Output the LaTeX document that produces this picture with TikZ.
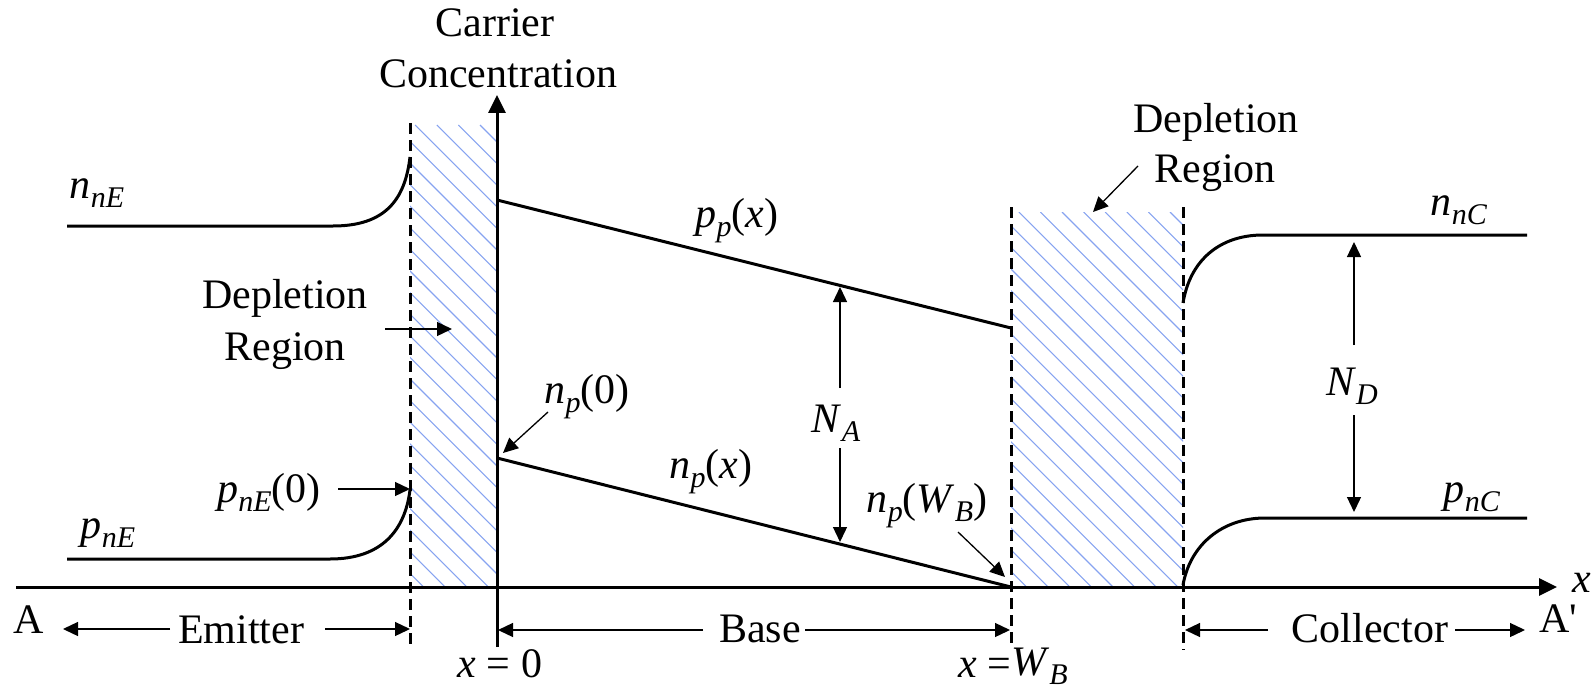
\documentclass[tikz,border=0pt]{standalone}
\usepackage{fontspec}
\setmainfont{Liberation Serif}
\usetikzlibrary{arrows.meta}
\definecolor{hatchblue}{RGB}{135,163,240}
\newcommand{\vsub}[2]{\textit{#1}\raisebox{-9pt}{\fontsize{30}{30}\selectfont\textit{#2}}}
\tikzset{
  curveline/.style={line width=3pt},
  axisline/.style={line width=3pt,-{Triangle[length=18pt,width=17pt]}},
  dimarrow/.style={line width=1.3pt,-{Triangle[length=15pt,width=14pt]}},
  dashline/.style={line width=3pt,dash pattern=on 11pt off 6pt},
  hatchline/.style={line width=1.1pt,draw=hatchblue},
  lbl/.style={inner sep=0pt,anchor=base,font=\fontsize{42}{48}\selectfont},
}
\begin{document}
\begin{tikzpicture}[x=1pt,y=-1pt]
\useasboundingbox (0,0) rectangle (1594,690);
% hatching
\begin{scope}
  \clip (410,125) rectangle (497,587);
  \foreach \k in {0,...,30} \draw[hatchline] ({-60+\k*21.6},125) -- ++(480,480);
\end{scope}
\begin{scope}
  \clip (1011,212) rectangle (1183,587);
  \foreach \k in {0,...,30} \draw[hatchline] ({630+\k*21.6},212) -- ++(400,400);
\end{scope}
% dashed boundaries
\coordinate (dLt) at (410,123); \coordinate (dLb) at (410,645);
\coordinate (dWt) at (1011,207); \coordinate (dWb) at (1011,649);
\coordinate (dCt) at (1183,207); \coordinate (dCb) at (1183,650);
\draw[dashline] (dLt) -- (dLb);
\draw[dashline] (dWt) -- (dWb);
\draw[dashline] (dCt) -- (dCb);
% axes
\coordinate (xs) at (16,587); \coordinate (xe) at (1557,587);
\coordinate (ys) at (497,647); \coordinate (ye) at (497,95);
\draw[axisline] (xs) -- (xe);
\draw[axisline] (ys) -- (ye);
% emitter curves
\coordinate (nE0) at (67,226); \coordinate (nE1) at (333,226); \coordinate (nE2) at (410,157);
\draw[curveline] (nE0) -- (nE1) .. controls (385,226) and (405,200) .. (nE2);
\coordinate (pE0) at (67,559); \coordinate (pE1) at (330,559); \coordinate (pE2) at (410,490);
\draw[curveline] (pE0) -- (pE1) .. controls (382,559) and (405,530) .. (pE2);
% base lines
\coordinate (pp0) at (497,200); \coordinate (pp1) at (1011,328);
\coordinate (np0) at (497,458); \coordinate (np1) at (1011,587);
\draw[curveline] (pp0) -- (pp1);
\draw[curveline] (np0) -- (np1);
% collector curves
\coordinate (nC0) at (1183,303); \coordinate (nC1) at (1263,235); \coordinate (nC2) at (1527,235);
\draw[curveline] (nC0) .. controls (1190,260) and (1220,235) .. (nC1) -- (nC2);
\coordinate (pC0) at (1183,585); \coordinate (pC1) at (1265,518); \coordinate (pC2) at (1527,518);
\draw[curveline] (pC0) .. controls (1190,545) and (1222,518) .. (pC1) -- (pC2);
% labels
\node[lbl] (car) at (495,37) {Carrier};
\node[lbl] (conc) at (498,88) {Concentration};
\node[lbl] (nnE) at (97,198) {\vsub{n}{nE}};
\node[lbl] (pnE) at (108,538) {\vsub{p}{nE}};
\node[lbl] (pnE0) at (269,502) {\vsub{p}{nE}(0)};
\node[lbl] (dep1) at (285,308) {Depletion};
\node[lbl] (reg1) at (285,360) {Region};
\node[lbl] (ppx) at (737,227) {\vsub{p}{p}(\textit{x})};
\node[lbl] (np0l) at (587,403) {\vsub{n}{p}(0)};
\node[lbl] (npx) at (711,478) {\vsub{n}{p}(\textit{x})};
\node[lbl] (npW) at (927,512) {\vsub{n}{p}(\vsub{W}{B})};
\node[lbl] (NA) at (836,432) {\vsub{N}{A}};
\node[lbl] (ND) at (1352,395) {\vsub{N}{D}};
\node[lbl] (nnC) at (1459,215) {\vsub{n}{nC}};
\node[lbl] (pnC) at (1472,502) {\vsub{p}{nC}};
\node[lbl] (dep2) at (1216,132) {Depletion};
\node[lbl] (reg2) at (1215,182) {Region};
\node[lbl] (xeq0) at (500,677) {\textit{x} = 0};
\node[lbl] (xeqW) at (1013,677) {\textit{x} =\raisebox{2pt}{\vsub{W}{B}}};
\node[lbl] (xlab) at (1582,592) {\textit{x}};
\node[lbl] (Al) at (29,633) {A};
\node[lbl] (Apl) at (1558,632) {A\textquotesingle};
\node[lbl] (emit) at (241,643) {Emitter};
\node[lbl] (base) at (760,642) {Base};
\node[lbl] (coll) at (1370,642) {Collector};
% annotation arrows
\coordinate (a1s) at (385,329); \coordinate (a1e) at (452,329);
\draw[dimarrow] (a1s) -- (a1e);
\coordinate (a2s) at (338,489); \coordinate (a2e) at (410,489);
\draw[dimarrow] (a2s) -- (a2e);
\coordinate (a3s) at (548,412); \coordinate (a3e) at (503,453);
\draw[dimarrow] (a3s) -- (a3e);
\coordinate (a4s) at (958,532); \coordinate (a4e) at (1005,577);
\draw[dimarrow] (a4s) -- (a4e);
\coordinate (a5s) at (1138,166); \coordinate (a5e) at (1093,212);
\draw[dimarrow] (a5s) -- (a5e);
% N_A
\coordinate (NAt0) at (840,388); \coordinate (NAt) at (840,287);
\coordinate (NAb0) at (840,448); \coordinate (NAb) at (840,542);
\draw[dimarrow] (NAt0) -- (NAt);
\draw[dimarrow] (NAb0) -- (NAb);
% N_D
\coordinate (NDt0) at (1354,345); \coordinate (NDt) at (1354,242);
\coordinate (NDb0) at (1354,415); \coordinate (NDb) at (1354,512);
\draw[dimarrow] (NDt0) -- (NDt);
\draw[dimarrow] (NDb0) -- (NDb);
% region arrows
\coordinate (e1s) at (170,629); \coordinate (e1e) at (63,629);
\coordinate (e2s) at (325,629); \coordinate (e2e) at (410,629);
\draw[dimarrow] (e1s) -- (e1e);
\draw[dimarrow] (e2s) -- (e2e);
\coordinate (b1s) at (703,630); \coordinate (b1e) at (498,630);
\coordinate (b2s) at (805,630); \coordinate (b2e) at (1010,630);
\draw[dimarrow] (b1s) -- (b1e);
\draw[dimarrow] (b2s) -- (b2e);
\coordinate (c1s) at (1268,630); \coordinate (c1e) at (1185,630);
\coordinate (c2s) at (1455,630); \coordinate (c2e) at (1525,630);
\draw[dimarrow] (c1s) -- (c1e);
\draw[dimarrow] (c2s) -- (c2e);
\end{tikzpicture}
\end{document}
